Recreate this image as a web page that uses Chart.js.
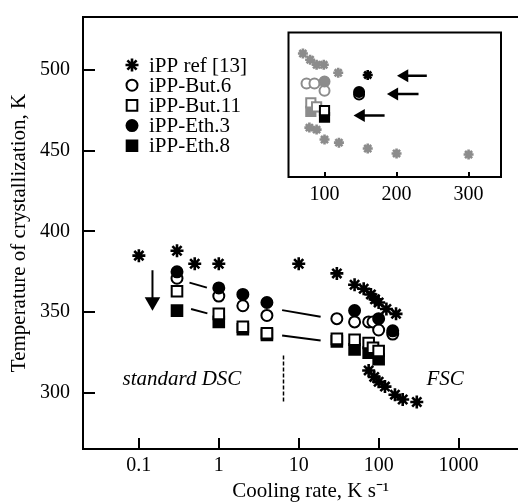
<!DOCTYPE html>
<html>
<head>
<meta charset="utf-8">
<script src="https://cdn.jsdelivr.net/npm/chart.js@4.4.0/dist/chart.umd.min.js"></script>
<style>
  html, body { margin: 0; padding: 0; overflow: hidden; background: #fff; }
  #wrap { position: relative; width: 518px; height: 502px; overflow: hidden; }
  #main { position: absolute; left: 0; top: 0; }
  #inset { position: absolute; left: 280px; top: 24px; }
</style>
</head>
<body>
<div id="wrap">
  <canvas id="main" width="548" height="502" style="width:548px;height:502px"></canvas>
  <canvas id="inset" width="232" height="190" style="width:232px;height:190px"></canvas>
</div>
<script>
// --- main plot data (cooling rate K/s, temperature K) ---
const xTicks = [0.1, 1, 10, 100, 1000];
const yTicks = [300, 350, 400, 450, 500];

const refRate = [0.1, 0.3, 0.5, 1, 10, 30, 50, 65, 80, 90, 100, 125, 165, 75, 88, 100, 120, 160, 200, 300];
const refTemp = [385, 388, 380, 380, 380, 374, 367, 364.5, 361, 358, 356, 352, 349, 314, 310, 307, 304, 299, 296, 294.5];

const but6Rate = [0.3, 1, 2, 4, 30, 50, 75, 85, 100, 150];
const but6Temp = [371, 360, 354, 348, 346, 344, 344, 344, 339, 336.5];

const but11Rate = [0.3, 1, 2, 4, 30, 50, 75, 85, 100];
const but11Temp = [363, 349, 341, 337, 333.5, 333, 331, 328, 326];

const eth3Rate = [0.3, 1, 2, 4, 50, 100, 150];
const eth3Temp = [375, 365, 361, 356, 351, 346, 338.5];

const eth8Rate = [0.3, 1, 2, 4, 30, 50, 75, 100];
const eth8Temp = [351, 344, 339.5, 336, 332, 327, 325, 321];

// short guide lines, dashed divider, arrow
const guideA = [[0.43, 368.3], [0.71, 365.2]];
const guideB = [[0.45, 352], [0.72, 349.3]];
const guideC = [[6.2, 351.3], [18.8, 347.2]];
const guideD = [[6.2, 335.6], [18.8, 332.5]];
const divider = [[6.45, 323.3], [6.45, 293.7]];
const arrowShaft = [[0.148, 376], [0.148, 358]];
const arrowHead = [[0.148, 356.4]];

const labelDSC = { x: 0.346, y: 308.6, text: "standard DSC" };
const labelFSC = { x: 680, y: 308.6, text: "FSC" };

// --- inset data ---
const insetTicks = [100, 200, 300];
const inRefGrayRate = [70, 80, 89, 99, 119, 79, 89, 100, 120, 160, 200, 300];
const inRefGrayTemp = [366, 361.6, 358, 358, 352.3, 313.2, 311.8, 304.7, 302.5, 298.3, 294.8, 294];
const inRefBlackRate = [160];
const inRefBlackTemp = [350.7];
const inBut6GrayRate = [75, 86, 100];
const inBut6GrayTemp = [344.7, 344.7, 339.5];
const inEth3GrayRate = [100];
const inEth3GrayTemp = [346];
const inBut11GrayRate = [81, 89];
const inBut11GrayTemp = [330.8, 328];
const inEth8GrayRate = [81];
const inEth8GrayTemp = [324.8];
const inBut6BlackRate = [148];
const inBut6BlackTemp = [336.8];
const inEth3BlackRate = [148];
const inEth3BlackTemp = [338.6];
const inBut11BlackRate = [100];
const inBut11BlackTemp = [325.3];
const inEth8BlackRate = [100];
const inEth8BlackTemp = [320.6];
const inArrows = [
  [[242, 350.2], [211, 350.2]],
  [[230.5, 337.2], [197, 337.2]],
  [[183.4, 321.8], [150.7, 321.8]]
];

const FONT = "'Liberation Serif', 'Times New Roman', serif";
const GRAY = "#8c8c8c";
Chart.defaults.font.family = FONT;
Chart.defaults.color = "#000";

function pts(xs, ys) {
  return xs.map((x, i) => ({ x: x, y: ys[i] }));
}
function xy(pairs) {
  return pairs.map(p => ({ x: p[0], y: p[1] }));
}

function markers(label, xs, ys, style, filled, color, r, inLegend) {
  return {
    label: label,
    data: pts(xs, ys),
    showLine: false,
    pointStyle: style,
    pointRadius: r,
    pointBorderWidth: style === "star" ? 2.6 : 2,
    pointBorderColor: color,
    pointBackgroundColor: filled ? color : "#fff",
    inLegend: inLegend
  };
}
function segment(pairs, dash, width) {
  return {
    data: xy(pairs),
    showLine: true,
    pointRadius: 0,
    borderColor: "#000",
    borderWidth: width || 2,
    borderDash: dash || []
  };
}

// frame + inward tick marks
const frameTicks = {
  id: "frameTicks",
  afterDraw(chart, args, opts) {
    const { ctx, chartArea: a, scales } = chart;
    ctx.save();
    ctx.strokeStyle = "#000";
    ctx.lineWidth = opts.lineWidth;
    ctx.strokeRect(a.left, a.top, a.right - a.left, a.bottom - a.top);
    ctx.beginPath();
    scales.x.ticks.forEach(t => {
      const px = Math.round(scales.x.getPixelForValue(t.value));
      ctx.moveTo(px, a.bottom);
      ctx.lineTo(px, a.bottom - opts.xTick);
    });
    if (opts.yTick && scales.y.options.display) {
      scales.y.ticks.forEach(t => {
        const py = Math.round(scales.y.getPixelForValue(t.value));
        ctx.moveTo(a.left, py);
        ctx.lineTo(a.left + opts.yTick, py);
      });
    }
    ctx.stroke();
    ctx.restore();
  }
};

// italic region labels placed in data coordinates
const regionLabels = {
  id: "regionLabels",
  afterDatasetsDraw(chart, args, opts) {
    const { ctx, scales } = chart;
    ctx.save();
    ctx.font = "italic 21px " + FONT;
    ctx.fillStyle = "#000";
    ctx.textAlign = "center";
    ctx.textBaseline = "middle";
    opts.items.forEach(l => {
      ctx.fillText(l.text, scales.x.getPixelForValue(l.x), scales.y.getPixelForValue(l.y));
    });
    ctx.restore();
  }
};

// legend drawn inside the plot, upper left
const innerLegend = {
  id: "innerLegend",
  afterDraw(chart, args, opts) {
    const ctx = chart.ctx;
    const a = chart.chartArea;
    ctx.save();
    ctx.font = "21px " + FONT;
    ctx.textBaseline = "middle";
    ctx.textAlign = "left";
    let y = a.top + opts.top;
    chart.data.datasets.filter(d => d.inLegend).sort((p, q) => p.inLegend - q.inLegend).forEach(d => {
      ctx.fillStyle = d.pointBackgroundColor;
      ctx.strokeStyle = d.pointBorderColor;
      ctx.lineWidth = d.pointBorderWidth;
      Chart.helpers.drawPoint(ctx, {
        pointStyle: d.pointStyle,
        radius: d.pointRadius,
        rotation: 0,
        borderWidth: d.pointBorderWidth
      }, a.left + opts.left, y);
      ctx.fillStyle = "#000";
      ctx.fillText(d.label, a.left + opts.left + 17, y + 1);
      y += opts.step;
    });
    ctx.restore();
  }
};

new Chart(document.getElementById("main").getContext("2d"), {
  type: "scatter",
  data: {
    datasets: [
      { data: xy(arrowHead), showLine: false, pointStyle: "triangle", pointRotation: 180,
        pointRadius: 9, pointBorderWidth: 0, pointBackgroundColor: "#000", pointBorderColor: "#000" },
      markers("iPP-Eth.3", eth3Rate, eth3Temp, "circle", true, "#000", 5.5, 4),
      markers("iPP-But.11", but11Rate, but11Temp, "rect", false, "#000", 7.5, 3),
      markers("iPP-Eth.8", eth8Rate, eth8Temp, "rect", true, "#000", 7.5, 5),
      markers("iPP-But.6", but6Rate, but6Temp, "circle", false, "#000", 5.5, 2),
      markers("iPP ref [13]", refRate, refTemp, "star", false, "#000", 6.5, 1),
      segment(guideA), segment(guideB), segment(guideC), segment(guideD),
      segment(divider, [4, 2], 1.5),
      segment(arrowShaft)
    ]
  },
  options: {
    responsive: false,
    animation: false,
    layout: { padding: { top: 14, right: 2, left: 0, bottom: 0 } },
    plugins: {
      legend: { display: false },
      tooltip: { enabled: false },
      frameTicks: { lineWidth: 2, xTick: 11, yTick: 12 },
      regionLabels: { items: [labelDSC, labelFSC] },
      innerLegend: { left: 49, top: 48, step: 20.2 }
    },
    scales: {
      x: {
        type: "logarithmic",
        min: 0.02,
        max: 10000,
        grid: { display: false },
        border: { display: false },
        afterBuildTicks: s => { s.ticks = xTicks.map(v => ({ value: v })); },
        afterFit: s => { s.height = 53; },
        ticks: { font: { size: 20 }, color: "#000", padding: -3, maxRotation: 0, autoSkip: false,
                 callback: v => String(v) },
        title: { display: true, text: "Cooling rate, K s\u207B\u00B9", color: "#000",
                 font: { size: 21, lineHeight: 1 }, padding: { top: 0, bottom: 0 } }
      },
      y: {
        min: 265.4,
        max: 532.6,
        grid: { display: false },
        border: { display: false },
        afterBuildTicks: s => { s.ticks = yTicks.map(v => ({ value: v })); },
        afterFit: s => { s.width = 83; },
        ticks: { font: { size: 20 }, color: "#000", padding: 5, autoSkip: false },
        title: { display: true, text: "Temperature of crystallization, K", color: "#000",
                 font: { size: 21, lineHeight: 1 }, padding: { top: 9, bottom: 0 } }
      }
    }
  },
  plugins: [frameTicks, regionLabels, innerLegend]
});

// --- inset ---
const insetSets = [
  markers("", inEth3BlackRate, inEth3BlackTemp, "circle", true, "#000", 5, 0),
  markers("", inBut6BlackRate, inBut6BlackTemp, "circle", false, "#000", 5, 0),
  markers("", inBut11BlackRate, inBut11BlackTemp, "rect", false, "#000", 6.5, 0),
  markers("", inEth8BlackRate, inEth8BlackTemp, "rect", true, "#000", 6.5, 0),
  markers("", inRefBlackRate, inRefBlackTemp, "star", false, "#000", 5, 0),
  markers("", inEth3GrayRate, inEth3GrayTemp, "circle", true, GRAY, 5, 0),
  markers("", inBut6GrayRate, inBut6GrayTemp, "circle", false, GRAY, 5, 0),
  markers("", inBut11GrayRate, inBut11GrayTemp, "rect", false, GRAY, 6.5, 0),
  markers("", inEth8GrayRate, inEth8GrayTemp, "rect", true, GRAY, 6.5, 0),
  markers("", inRefGrayRate, inRefGrayTemp, "star", false, GRAY, 5, 0)
];
inArrows.forEach(a => {
  insetSets.push({ data: xy([a[1]]), showLine: false, pointStyle: "triangle", pointRotation: 270,
    pointRadius: 7.5, pointBorderWidth: 0, pointBackgroundColor: "#000", pointBorderColor: "#000" });
  insetSets.push(segment(a, [], 2.5));
});

new Chart(document.getElementById("inset").getContext("2d"), {
  type: "scatter",
  data: { datasets: insetSets },
  options: {
    responsive: false,
    animation: false,
    layout: { padding: { top: 8, right: 11, left: 7, bottom: 0 } },
    plugins: {
      legend: { display: false },
      tooltip: { enabled: false },
      frameTicks: { lineWidth: 2, xTick: 5, yTick: 0 }
    },
    scales: {
      x: {
        type: "linear",
        min: 50,
        max: 345,
        grid: { display: false },
        border: { display: false },
        afterBuildTicks: s => { s.ticks = insetTicks.map(v => ({ value: v })); },
        afterFit: s => { s.height = 37; },
        ticks: { font: { size: 20 }, color: "#000", padding: -2, maxRotation: 0 }
      },
      y: { display: false, min: 278, max: 381 }
    }
  },
  plugins: [frameTicks]
});
</script>
</body>
</html>
